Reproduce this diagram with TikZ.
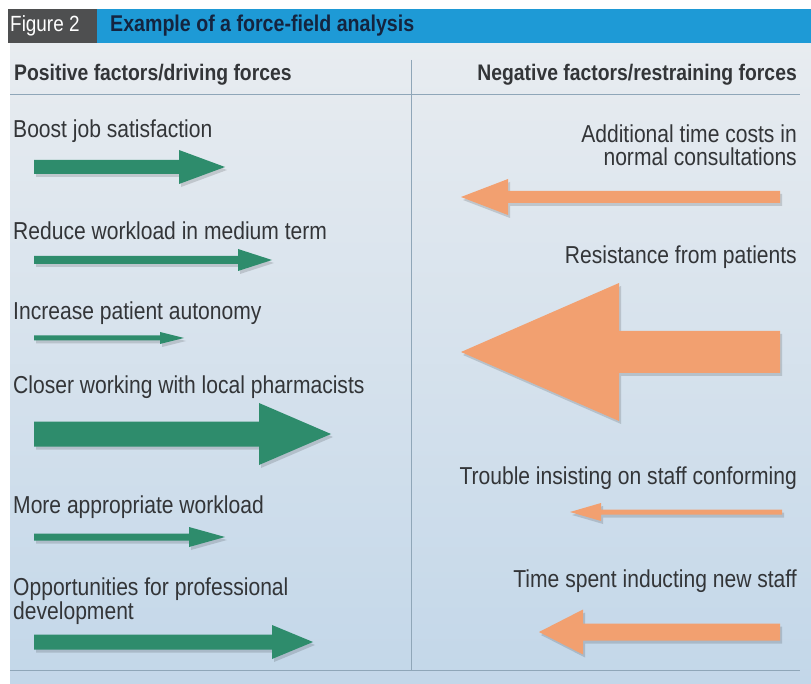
\documentclass[tikz,border=0pt]{standalone}
\usepackage{fontspec}
\setmainfont{Liberation Sans}[FakeStretch=0.86]
\definecolor{txt}{HTML}{333538}
\definecolor{bgtop}{HTML}{E8ECF0}
\definecolor{bgbot}{HTML}{C3D7E9}
\definecolor{figgrey}{HTML}{4E4F50}
\definecolor{barblue}{HTML}{1E9AD6}
\definecolor{navy}{HTML}{14243F}
\definecolor{grn}{HTML}{2E8C6C}
\definecolor{org}{HTML}{F2A070}
\definecolor{rule}{HTML}{8FA6B8}
\newcommand{\forcearrow}[7]{%
  \fill[black,opacity=0.14,shift={(2,3)}] (#2,#5-#6) -- (#3,#5-#6) -- (#3,#5-#7) -- (#4,#5) -- (#3,#5+#7) -- (#3,#5+#6) -- (#2,#5+#6) -- cycle;
  \fill[#1] (#2,#5-#6) -- (#3,#5-#6) -- (#3,#5-#7) -- (#4,#5) -- (#3,#5+#7) -- (#3,#5+#6) -- (#2,#5+#6) -- cycle;}
\begin{document}
\begin{tikzpicture}[x=1pt,y=-1pt,
  lbl/.style={text=txt, inner sep=0pt, font=\fontsize{24.5}{22.5}\selectfont},
  lleft/.style={lbl, anchor=west, align=left},
  lright/.style={lbl, anchor=east, align=right},
  head/.style={text=txt, inner sep=0pt, font=\bfseries\fontsize{22.5}{22}\selectfont},
  rulel/.style={rule, line width=1pt}]
\useasboundingbox (0,0) rectangle (811,684);
\fill[white] (0,0) rectangle (811,684);
\shade[top color=bgtop, bottom color=bgbot] (10,43) rectangle (811,684);
\fill[figgrey] (8,9) rectangle (97,43);
\fill[barblue] (97,9) rectangle (811,43);
\node[anchor=west, inner sep=0pt, text=white, font=\fontsize{22}{22}\selectfont] (fig) at (10,26) {Figure 2};
\node[anchor=west, inner sep=0pt, text=navy, font=\bfseries\fontsize{22.8}{22}\selectfont] (title) at (110,26) {Example of a force-field analysis};
% column headings
\node[head, anchor=west] (hpos) at (14,75) {Positive factors/driving forces};
\node[head, anchor=east] (hneg) at (797,75) {Negative factors/restraining forces};
\draw[rulel] (10,95) -- (800,95);
\draw[rulel] (411,60) -- (411,670);
\draw[rulel] (10,670) -- (800,670);
% left labels
\node[lleft] (p1) at (13,131) {Boost job satisfaction};
\node[lleft] (p2) at (13,231) {Reduce workload in medium term};
\node[lleft] (p3) at (13,313) {Increase patient autonomy};
\node[lleft] (p4) at (13,387) {Closer working with local pharmacists};
\node[lleft] (p5) at (13,507) {More appropriate workload};
\node[lleft] (p6) at (13,601) {Opportunities for professional\\development};
% right labels
\node[lright] (n1) at (797,145) {Additional time costs in\\normal consultations};
\node[lright] (n2) at (797,257) {Resistance from patients};
\node[lright] (n3) at (797,478) {Trouble insisting on staff conforming};
\node[lright] (n4) at (797,581) {Time spent inducting new staff};
% green arrows
\forcearrow{grn}{34}{179}{225}{167}{7}{17}
\forcearrow{grn}{34}{238}{272}{260}{4}{11}
\forcearrow{grn}{34}{160}{184}{338}{2.5}{6}
\forcearrow{grn}{34}{259}{331}{434}{12.5}{31}
\forcearrow{grn}{34}{189}{225}{537}{3.5}{10}
\forcearrow{grn}{34}{272}{313}{642}{7.5}{17}
% orange arrows
\forcearrow{org}{780}{508}{461}{197}{6}{18}
\forcearrow{org}{780}{619}{461}{352}{21}{69}
\forcearrow{org}{782}{601}{570}{512}{2.5}{9}
\forcearrow{org}{780}{583}{539}{632}{8.5}{22.5}
\end{tikzpicture}
\end{document}
